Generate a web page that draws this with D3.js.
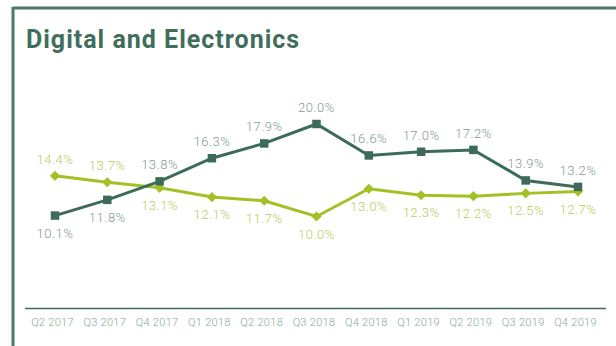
<!DOCTYPE html>
<html>
<head>
<meta charset="utf-8">
<script src="https://cdn.jsdelivr.net/npm/d3@7"></script>
<style>
  body { margin: 0; background: #fff; }
  svg { display: block; }
</style>
</head>
<body>
<div id="chart"></div>
<script>
// quarterly values
var quarters = ["Q2 2017", "Q3 2017", "Q4 2017", "Q1 2018", "Q2 2018", "Q3 2018",
                "Q4 2018", "Q1 2019", "Q2 2019", "Q3 2019", "Q4 2019"];
var digital = [10.1, 11.8, 13.8, 16.3, 17.9, 20.0, 16.6, 17.0, 17.2, 13.9, 13.2];
var electronics = [14.4, 13.7, 13.1, 12.1, 11.7, 10.0, 13.0, 12.3, 12.2, 12.5, 12.7];
// label placement: true = above the point
var digitalAbove = [false, false, true, true, true, true, true, true, true, true, true];
var electronicsAbove = [true, true, false, false, false, false, false, false, false, false, false];

var width = 616, height = 346;
var dark = "#3d6b5a", lime = "#a3c124";

var svg = d3.select("#chart").append("svg")
    .attr("width", width)
    .attr("height", height);

// frame
svg.append("line").attr("x1", 13).attr("x2", width).attr("y1", 8).attr("y2", 8)
    .attr("stroke", "#4b7b69").attr("stroke-width", 3);
svg.append("line").attr("x1", 13).attr("x2", 13).attr("y1", 7).attr("y2", height)
    .attr("stroke", "#4b7b69").attr("stroke-width", 3);

svg.append("text")
    .attr("x", 26).attr("y", 48)
    .attr("font-family", "Roboto, sans-serif")
    .attr("font-weight", "bold")
    .attr("font-size", 25)
    .attr("letter-spacing", 1)
    .attr("fill", "#3f6e5d")
    .text("Digital and Electronics");

var x = d3.scalePoint()
    .domain(quarters)
    .range([55, 578]);

var y = d3.scaleLinear()
    .domain([0, 20])
    .range([309, 124]);

// axis
var axis = svg.append("g")
    .attr("transform", "translate(0,308)")
    .call(d3.axisBottom(x).tickSize(0).tickPadding(10));
axis.select(".domain").remove();
axis.selectAll("text")
    .attr("font-family", "Roboto, sans-serif")
    .attr("font-weight", 300)
    .attr("font-size", 11)
    .attr("letter-spacing", 0.3)
    .attr("fill", "#8ba89b")
    .attr("dx", -3);
svg.append("line").attr("x1", 25).attr("x2", 606).attr("y1", 308.5).attr("y2", 308.5)
    .attr("stroke", dark).attr("stroke-width", 1.5);

var line = d3.line()
    .x(function(d, i) { return x(quarters[i]); })
    .y(function(d) { return y(d); });

function drawSeries(values, above, color, labelColor, size, rotate) {
  svg.append("path")
      .datum(values)
      .attr("d", line)
      .attr("fill", "none")
      .attr("stroke", color)
      .attr("stroke-width", 3);

  svg.append("g").selectAll("path")
      .data(values)
      .enter().append("path")
      .attr("transform", function(d, i) {
        return "translate(" + x(quarters[i]) + "," + y(d) + ") rotate(" + rotate + ")";
      })
      .attr("d", d3.symbol().type(d3.symbolSquare).size(size))
      .attr("fill", color);

  svg.append("g").selectAll("text")
      .data(values)
      .enter().append("text")
      .attr("x", function(d, i) { return x(quarters[i]); })
      .attr("y", function(d, i) { return y(d) + (above[i] ? -12 : 22); })
      .attr("text-anchor", "middle")
      .attr("font-family", "Roboto, sans-serif")
      .attr("font-weight", 300)
      .attr("font-size", 13)
      .attr("letter-spacing", 0.5)
      .attr("fill", labelColor)
      .text(function(d) { return d.toFixed(1) + "%"; });
}

drawSeries(electronics, electronicsAbove, lime, "#b8cd58", 52, 45);
drawSeries(digital, digitalAbove, dark, "#7f9c90", 72, 0);
</script>
</body>
</html>
